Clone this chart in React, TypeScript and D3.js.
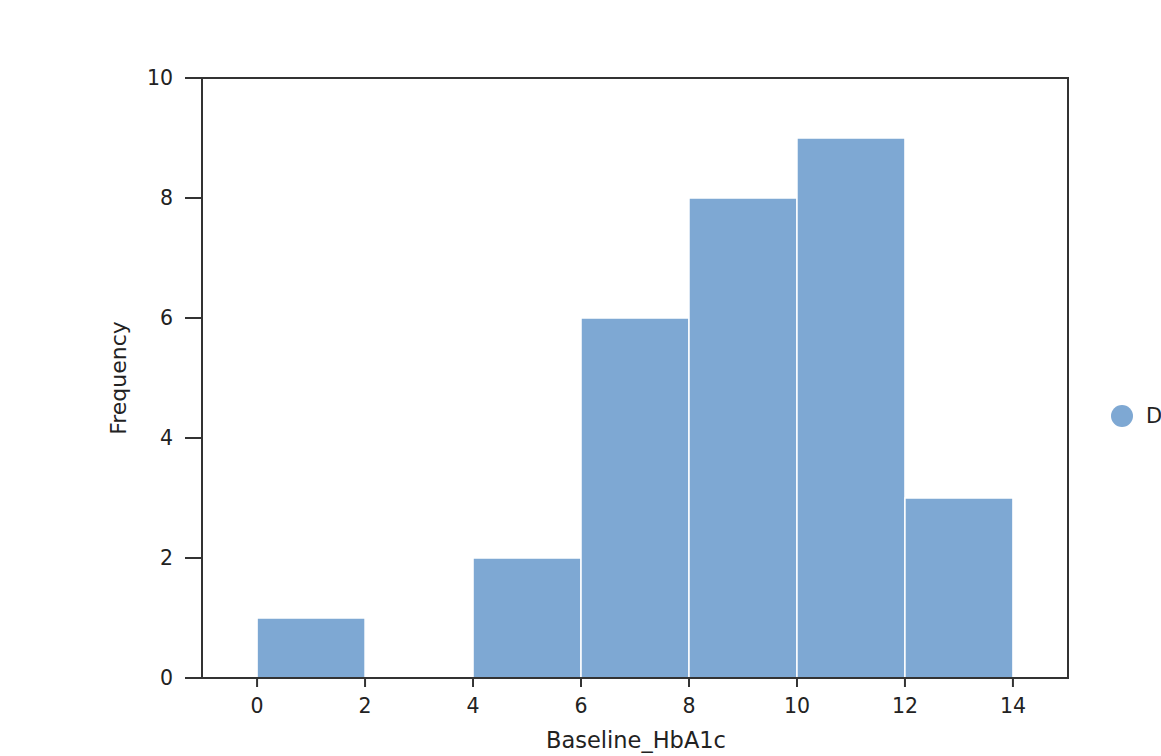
import React from "react";
import * as d3 from "d3";

const binStarts = [0, 2, 4, 6, 8, 10, 12];
const binWidth = 2;
const counts = [1, 0, 2, 6, 8, 9, 3];
const xTicks = [0, 2, 4, 6, 8, 10, 12, 14];
const yTicks = [0, 2, 4, 6, 8, 10];
const xLabel = "Baseline_HbA1c";
const yLabel = "Frequency";
const legendLabel = "D";

const W = 1161;
const H = 756;
const L = 202, R = 1068, T = 78, B = 678;
const barColor = "#7ea8d3";
const axisColor = "#333333";
const font = "'DejaVu Sans', sans-serif";

export default function App() {
  const x = d3.scaleLinear().domain([-1.02, 15.02]).range([L, R]);
  const y = d3.scaleLinear().domain([0, 10]).range([B, T]);
  return (
    <svg width={W} height={H} style={{ position: "absolute", left: 0, top: 0, background: "#fff" }}>
      <rect x={0} y={0} width={W} height={H} fill="#fff" />
      {binStarts.map((s, i) =>
        counts[i] > 0 ? (
          <rect
            key={i}
            x={x(s)}
            y={y(counts[i])}
            width={x(s + binWidth) - x(s)}
            height={y(0) - y(counts[i])}
            fill={barColor}
            stroke="#ffffff"
            strokeWidth={1.5}
          />
        ) : null
      )}
      <rect x={L} y={T} width={R - L} height={B - T} fill="none" stroke={axisColor} strokeWidth={2} />
      {yTicks.map((t) => (
        <g key={"y" + t}>
          <line x1={L - 17} x2={L} y1={y(t)} y2={y(t)} stroke={axisColor} strokeWidth={2} />
          <text x={L - 29} y={y(t)} dy="0.35em" textAnchor="end" fontFamily={font} fontSize={20.5} fill="#222">
            {t}
          </text>
        </g>
      ))}
      {xTicks.map((t) => (
        <g key={"x" + t}>
          <line x1={x(t)} x2={x(t)} y1={B} y2={B + 9} stroke={axisColor} strokeWidth={2} />
          <text x={x(t)} y={B + 28} dy="0.35em" textAnchor="middle" fontFamily={font} fontSize={20.5} fill="#222">
            {t}
          </text>
        </g>
      ))}
      <text x={(L + R) / 2 + 1} y={740} dy="0.35em" textAnchor="middle" fontFamily={font} fontSize={22.5} fill="#222">
        {xLabel}
      </text>
      <text
        transform={`translate(118, ${(T + B) / 2}) rotate(-90)`}
        dy="0.35em"
        textAnchor="middle"
        fontFamily={font}
        fontSize={22}
        fill="#222"
      >
        {yLabel}
      </text>
      <circle cx={1122} cy={416} r={11} fill={barColor} />
      <text x={1146} y={416} dy="0.35em" fontFamily={font} fontSize={21} fill="#222">
        {legendLabel}
      </text>
    </svg>
  );
}
